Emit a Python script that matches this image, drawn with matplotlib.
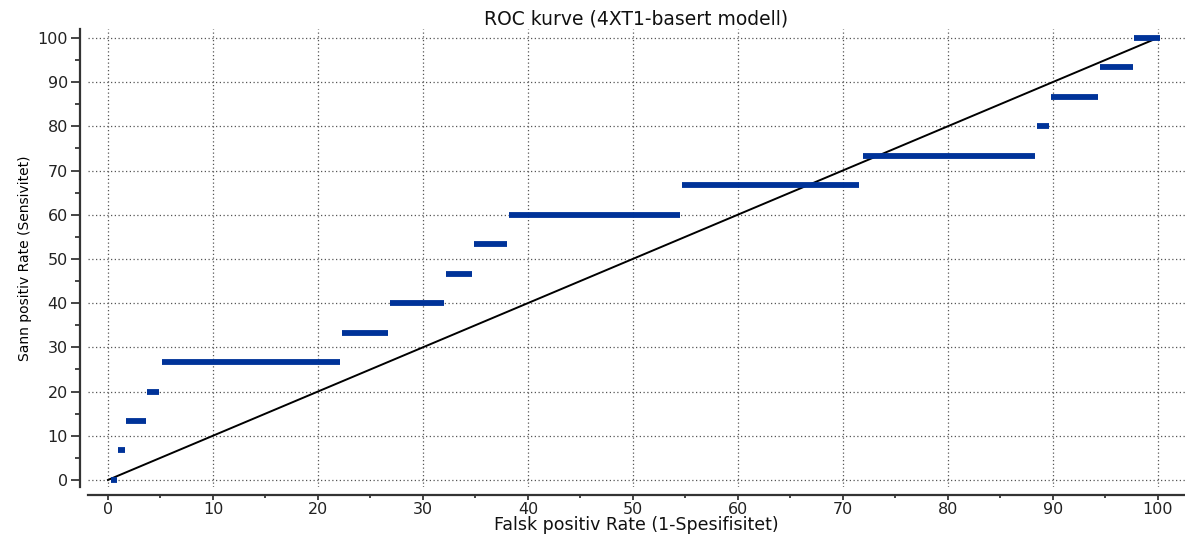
import matplotlib.pyplot as plt
import numpy as np

# ROC steps: sensitivity level and the FPR range each one covers
sens = [0.0, 6.67, 13.33, 20.0, 26.67, 33.33, 40.0, 46.67, 53.33,
        60.0, 66.67, 73.33, 80.0, 86.67, 93.33, 100.0]
fpr_start = [0.3, 1.0, 1.7, 3.7, 5.1, 22.3, 26.9, 32.2, 34.9,
             38.2, 54.7, 71.9, 88.5, 89.8, 94.5, 97.7]
fpr_end = [0.9, 1.6, 3.6, 4.9, 22.1, 26.7, 32.0, 34.7, 38.0,
           54.5, 71.5, 88.3, 89.6, 94.3, 97.6, 100.2]

# reference diagonal
diag = [0, 100]

fig = plt.figure(figsize=(11.85, 5.35), dpi=100)
ax = fig.add_axes([0.0743, 0.0897, 0.9257, 0.856])

ax.plot(diag, diag, color='black', lw=1.4, zorder=3)
ax.hlines(sens, fpr_start, fpr_end, color='#003399', lw=4.2, zorder=4,
          capstyle='butt')

ax.set_xlim(-1.9, 102.6)
ax.set_ylim(-1.6, 102.0)
ax.set_xticks(np.arange(0, 101, 10))
ax.set_yticks(np.arange(0, 101, 10))
ax.set_xticks(np.arange(5, 100, 10), minor=True)
ax.set_yticks(np.arange(5, 100, 10), minor=True)

ax.grid(True, which='major', color='#555555', linestyle=(0, (1, 2)), lw=0.9)

for s in ['top', 'right']:
    ax.spines[s].set_visible(False)
for s in ['left', 'bottom']:
    ax.spines[s].set_linewidth(1.6)
    ax.spines[s].set_color('#333333')
    ax.spines[s].set_position(('outward', 6))

ax.tick_params(which='major', width=1.4, color='#444444',
               labelsize=11.5, labelcolor='#222222')
ax.tick_params(axis='y', which='major', length=6.5, pad=2)
ax.tick_params(axis='x', which='major', length=3.5, pad=1.5)
ax.tick_params(axis='y', which='minor', length=3.5, width=1.4, color='#444444')
ax.tick_params(axis='x', which='minor', length=2.5, width=1.4, color='#444444')

ax.set_title('ROC kurve (4XT1-basert modell)', fontsize=13.5, pad=3,
             color='#111111')
ax.set_xlabel('Falsk positiv Rate (1-Spesifisitet)', fontsize=12.5,
              labelpad=-1, color='#111111')
ax.set_ylabel('Sann positiv Rate (Sensivitet)', fontsize=10,
              family=['Liberation Sans Narrow', 'DejaVu Sans'], labelpad=4)

plt.savefig('out.png', dpi=100)
